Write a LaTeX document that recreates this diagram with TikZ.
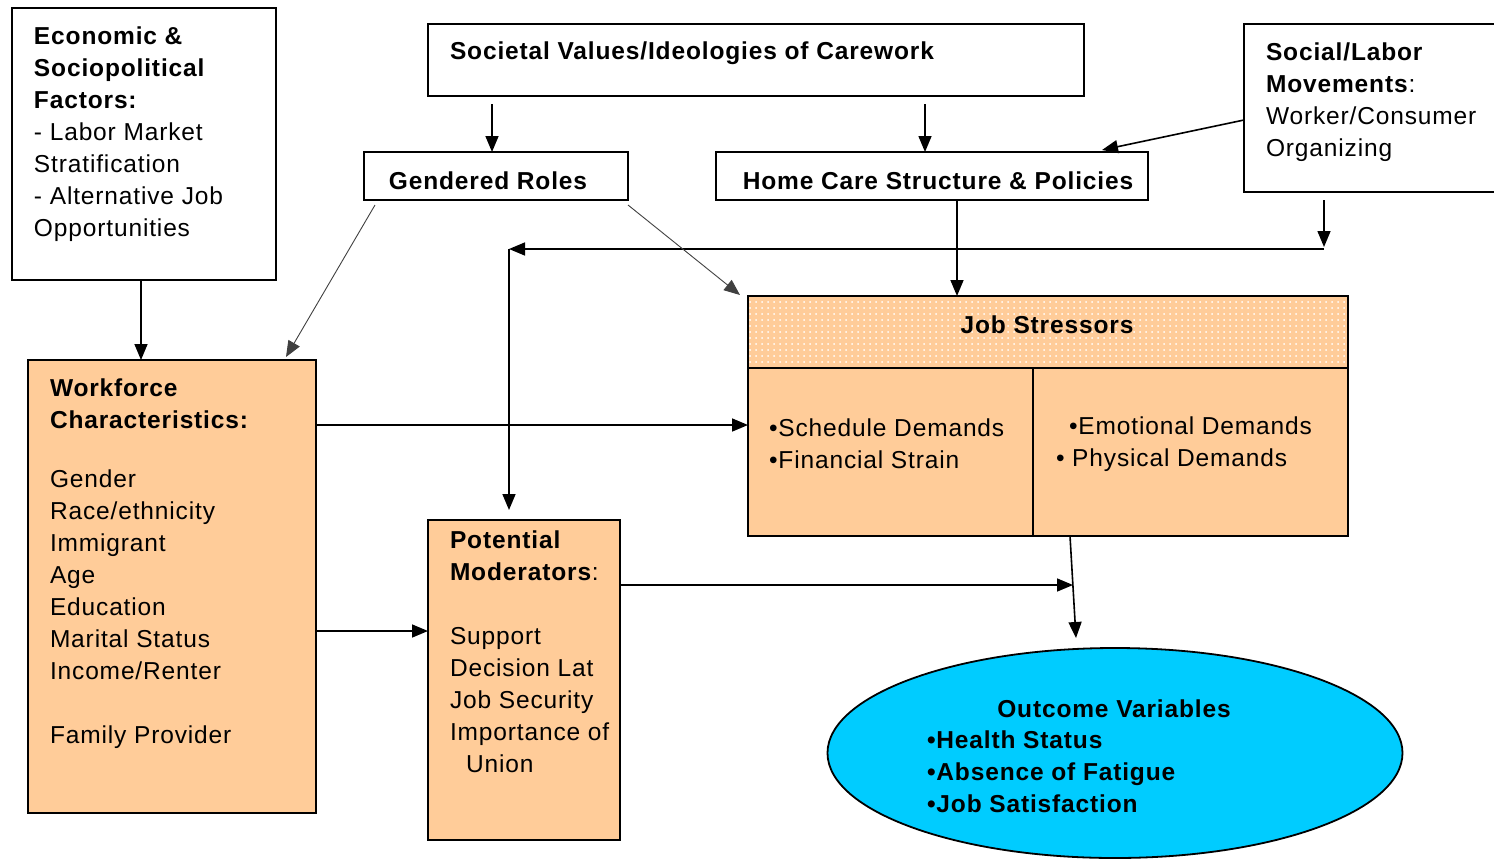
\documentclass[tikz,border=0pt]{standalone}
\usepackage{fontspec}
\setmainfont{Liberation Sans}[LetterSpace=3.5]
\usetikzlibrary{arrows.meta,calc,patterns.meta,shapes.geometric}
\definecolor{peach}{HTML}{FFCC99}
\definecolor{skyblue}{HTML}{00CCFF}
\begin{document}
\begin{tikzpicture}[x=1pt,y=-1pt,
  every node/.style={inner sep=0pt,outer sep=0pt},
  frame/.style={draw=black,line width=1.8pt,anchor=north west},
  plain/.style={frame,fill=white},
  warm/.style={frame,fill=peach},
  txt/.style={anchor=north west,align=left,font=\fontsize{24.5}{32}\selectfont},
  ctxt/.style={anchor=center,font=\fontsize{24.5}{32}\selectfont\bfseries},
  link/.style={line width=1.6pt,-{Triangle[length=16pt,width=13pt]}},
  thinlink/.style={line width=0.9pt,-{Triangle[length=16pt,width=13pt]}},
  bar/.style={line width=1.6pt}]
\useasboundingbox (0,0) rectangle (1494,860);

% ---- top row of context boxes ----
\node[plain,minimum width=264pt,minimum height=272pt] (econ) at (12,8) {};
\node[txt] (econtxt) at (34,27) {\textbf{Economic \&}\\\textbf{Sociopolitical}\\\textbf{Factors:}\\- Labor Market\\Stratification\\- Alternative Job\\Opportunities};

\node[plain,minimum width=656pt,minimum height=72pt] (soc) at (428,24) {};
\node[txt,anchor=west] (soctxt) at (450,53) {\textbf{Societal Values/Ideologies of Carework}};

\node[plain,minimum width=260pt,minimum height=168pt] (move) at (1244,24) {};
\node[txt] (movetxt) at (1266,43) {\textbf{Social/Labor}\\\textbf{Movements}:\\Worker/Consumer\\Organizing};

\node[plain,minimum width=264pt,minimum height=48pt] (gender) at (364,152) {};
\node[ctxt] (gendertxt) at (488,181) {Gendered Roles};

\node[plain,minimum width=432pt,minimum height=48pt] (home) at (716,152) {};
\node[ctxt] (hometxt) at (938,181) {Home Care Structure \& Policies};

% ---- workforce and moderators ----
\node[warm,minimum width=288pt,minimum height=453pt] (work) at (28,360) {};
\node[txt] (worktxt) at (50,379) {\textbf{Workforce}\\\textbf{Characteristics:}\\[27pt]Gender\\Race/ethnicity\\Immigrant\\Age\\Education\\Marital Status\\Income/Renter\\[32pt]Family Provider};

\node[warm,minimum width=192pt,minimum height=320pt] (mod) at (428,520) {};
\node[txt] (modtxt) at (450,531) {\textbf{Potential}\\\textbf{Moderators}:\\[32pt]Support\\Decision Lat\\Job Security\\Importance of\\\hspace*{16pt}Union};

% ---- job stressors ----
\node[warm,minimum width=600pt,minimum height=240pt] (job) at (748,296) {};
\node[frame,fill=peach,minimum width=600pt,minimum height=72pt,
      postaction={pattern={Dots[distance=6pt,radius=1pt]},pattern color=white}] (jobhead) at (748,296) {};
\draw[frame] (jobhead.north west) rectangle (job.south east);
\draw[bar] (jobhead.south west) -- (jobhead.south east);
\draw[bar] (1033,368) -- (1033,536);
\node[ctxt] (jobtxt) at (1047,325) {Job Stressors};
\node[txt] (jobl) at (769,419) {•Schedule Demands\\•Financial Strain};
\node[txt] (jobr) at (1056,417) {\hspace*{13pt}•Emotional Demands\\• Physical Demands};

% ---- outcomes ----
\node[ellipse,draw=black,line width=1.8pt,fill=skyblue,minimum width=575pt,minimum height=210pt] (out) at (1115,753) {};
\node[ctxt] (outhead) at (1114,709) {Outcome Variables};
\node[txt,font=\fontsize{24.5}{32}\selectfont\bfseries] (outlist) at (927,731) {•Health Status\\•Absence of Fatigue\\•Job Satisfaction};

% ---- connectors ----
\coordinate (busR) at (1324,249);
\coordinate (busL) at (509,249);
\coordinate (meet) at (1073,585);

\draw[link] (econ.south -| 141,0) -- (work.north -| 141,0);
\draw[link] ([yshift=-8pt]soc.south -| 492,0) -- (gender.north -| 492,0);
\draw[link] ([yshift=-8pt]soc.south -| 925,0) -- (home.north -| 925,0);
\draw[link] ([yshift=-12pt]move.west) -- ($(home.north east)+(-46,-2)$);
\draw[link] ([yshift=-8pt]move.south -| busR) -- ([yshift=2pt]busR);
\draw[bar,-{Triangle[length=16pt,width=13pt]}] (busR) -- (busL);
\draw[link] (busL) -- ([yshift=10pt]mod.north -| busL);
\draw[link] (home.south -| 957,0) -- (job.north -| 957,0);
\draw[thinlink,draw=black!75] ([yshift=-5pt]gender.south east) -- ($(job.north west)+(-8,-1)$);
\draw[thinlink,draw=black!75] ($(gender.south west)+(11,5)$) -- ($(work.north east)+(-30,-3)$);
\draw[link] ($(work.north east)+(0,65)$) -- (job.west |- 0,425);
\draw[link] ($(work.north east)+(0,271)$) -- (mod.west |- 0,631);
\draw[link] ($(mod.north east)+(0,65)$) -- (meet);
\draw[link] ($(job.south west)+(322,0)$) -- ($(out.north)+(-39,-10)$);
\end{tikzpicture}
\end{document}
